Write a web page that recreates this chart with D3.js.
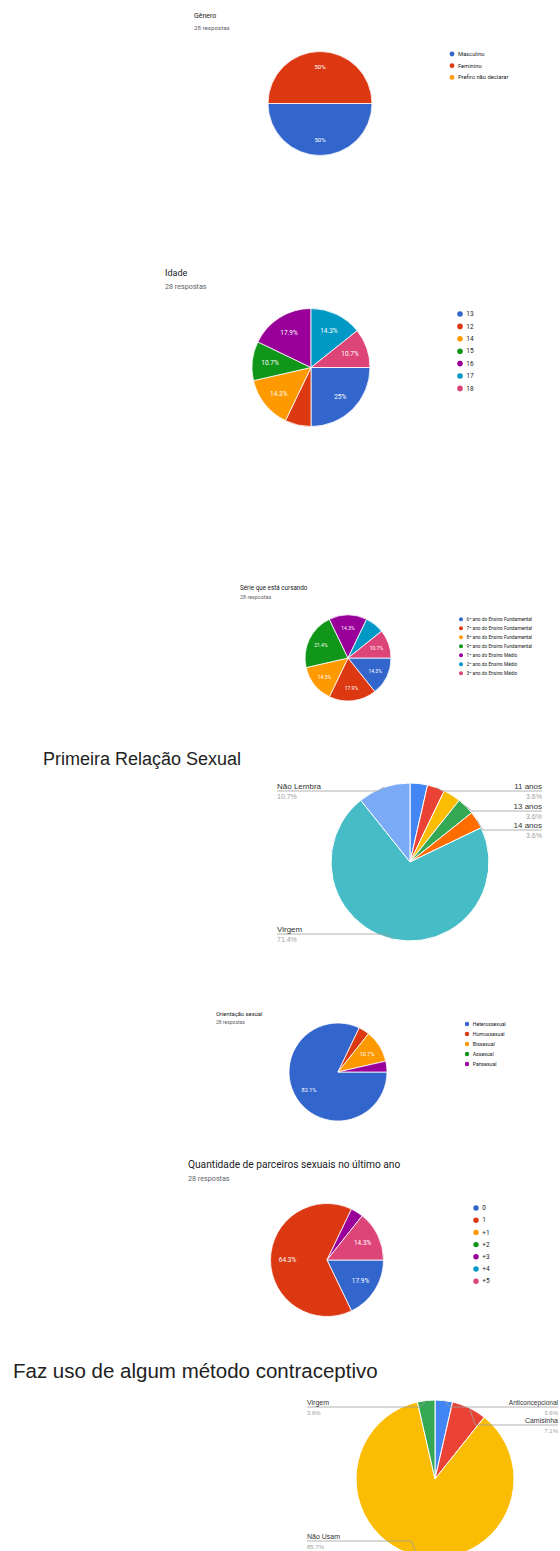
<!DOCTYPE html>
<html>
<head>
<meta charset="utf-8">
<script src="https://cdn.jsdelivr.net/npm/d3@7"></script>
<style>
  html, body { margin: 0; padding: 0; background: #fff; }
  svg { display: block; }
</style>
</head>
<body>
<svg id="chart" width="560" height="1551"></svg>
<script>
// ---- Survey answers (28 respostas) ----
const generoCats = ["Masculino", "Feminino", "Prefiro não declarar"];
const generoVals = [14, 14, 0];

const idadeCats = ["13", "12", "14", "15", "16", "17", "18"];
const idadeVals = [7, 2, 4, 3, 5, 4, 3];

const serieCats = [
  "6º ano do Ensino Fundamental",
  "7º ano do Ensino Fundamental",
  "8º ano do Ensino Fundamental",
  "9º ano do Ensino Fundamental",
  "1º ano do Ensino Médio",
  "2º ano do Ensino Médio",
  "3º ano do Ensino Médio"
];
const serieVals = [4, 5, 4, 6, 4, 2, 3];

const primeiraCats = ["10 anos", "11 anos", "12 anos", "13 anos", "14 anos", "Virgem", "Não Lembra"];
const primeiraVals = [1, 1, 1, 1, 1, 20, 3];

const orientCats = ["Heterossexual", "Homossexual", "Bissexual", "Assexual", "Pansexual"];
const orientVals = [23, 1, 3, 0, 1];

const parceirosCats = ["0", "1", "+1", "+2", "+3", "+4", "+5"];
const parceirosVals = [5, 18, 0, 0, 1, 0, 4];

const metodoCats = ["Anticoncepcional", "Camisinha", "Não Usam", "Virgem"];
const metodoVals = [1, 2, 24, 1];

// ---- Palettes ----
const formsColors = ["#3366cc", "#dc3912", "#ff9900", "#109618", "#990099", "#0099c6", "#dd4477"];
const sheetsColors = ["#4285f4", "#ea4335", "#fbbc04", "#34a853", "#ff6d01", "#46bdc6", "#7baaf7"];

const svg = d3.select("#chart");
svg.append("rect").attr("width", 560).attr("height", 1551).attr("fill", "#fff");

const pct = f => {
  const p = Math.round(f * 1000) / 10;
  return (Number.isInteger(p) ? p : p.toFixed(1)) + "%";
};

// Forms-style pie: title, response count, white percentage labels, dot legend
function formsPie(o) {
  const g = svg.append("g").attr("font-family", "Roboto, 'Liberation Sans', Arial, sans-serif");
  const total = d3.sum(o.values);
  g.append("text").attr("x", o.titleX).attr("y", o.titleY)
    .attr("font-size", o.titleSize).attr("fill", "#202124").text(o.title);
  g.append("text").attr("x", o.titleX).attr("y", o.subY)
    .attr("font-size", o.subSize).attr("fill", "#5f6368").text(total + " respostas");

  const pie = d3.pie().sort(null)
    .startAngle(Math.PI / 2).endAngle(Math.PI / 2 + 2 * Math.PI);
  const arcs = pie(o.values);
  const arc = d3.arc().innerRadius(0).outerRadius(o.r);
  const labelArc = d3.arc().innerRadius(o.r * 0.7).outerRadius(o.r * 0.7);

  const pg = g.append("g").attr("transform", `translate(${o.cx},${o.cy})`);
  pg.selectAll("path").data(arcs.filter(d => d.value > 0)).join("path")
    .attr("d", arc).attr("fill", d => formsColors[d.index])
    .attr("stroke", "#fff").attr("stroke-width", 0.8);
  pg.selectAll("text").data(arcs.filter(d => d.value / total >= 0.08)).join("text")
    .attr("transform", d => `translate(${labelArc.centroid(d)})`)
    .attr("text-anchor", "middle").attr("dy", "0.35em")
    .attr("font-size", o.labelSize).attr("fill", "#fff")
    .text(d => pct(d.value / total));

  const ly = d3.scalePoint().domain(o.cats)
    .range([o.legendY, o.legendY + o.legendStep * (o.cats.length - 1)]);
  const lg = g.append("g");
  lg.selectAll("circle").data(o.cats).join("circle")
    .attr("cx", o.legendX).attr("cy", d => ly(d)).attr("r", o.dotR)
    .attr("fill", (d, i) => formsColors[i]);
  lg.selectAll("text").data(o.cats).join("text")
    .attr("x", o.legendX + o.dotR + 3.5).attr("y", d => ly(d)).attr("dy", "0.35em")
    .attr("font-size", o.legendSize).attr("fill", "#202124").text(d => d);
}

// Sheets-style pie with outside labels on leader lines
function labeledPie(o) {
  const g = svg.append("g").attr("font-family", "'Liberation Sans', Arial, sans-serif");
  const total = d3.sum(o.values);
  g.append("text").attr("x", o.titleX).attr("y", o.titleY)
    .attr("font-size", o.titleSize).attr("fill", "#222").text(o.title);

  const pie = d3.pie().sort(null).startAngle(0).endAngle(2 * Math.PI);
  const arcs = pie(o.values);
  const arc = d3.arc().innerRadius(0).outerRadius(o.r);
  const edge = d3.arc().innerRadius(o.r).outerRadius(o.r);

  const pg = g.append("g").attr("transform", `translate(${o.cx},${o.cy})`);
  pg.selectAll("path").data(arcs.filter(d => d.value > 0)).join("path")
    .attr("d", arc).attr("fill", d => sheetsColors[d.index])
    .attr("stroke", "#fff").attr("stroke-width", 1);

  o.labels.forEach(l => {
    const d = arcs[l.index];
    const [ex, ey] = edge.centroid(d);
    const px = o.cx + ex, py = o.cy + ey;
    const dir = l.side === "right" ? 1 : -1;
    const elbowX = px + dir * 6;
    const lineEnd = l.lineEnd !== undefined ? l.lineEnd : l.x;
    g.append("path")
      .attr("d", d3.line()([[px, py], [elbowX, l.lineY], [lineEnd, l.lineY]]))
      .attr("fill", "none").attr("stroke", "#9e9e9e").attr("stroke-width", 0.8);
    const anchor = l.anchor || (l.side === "right" ? "end" : "start");
    g.append("text").attr("x", l.x).attr("y", l.lineY - 2.5)
      .attr("text-anchor", anchor).attr("font-size", l.nameSize || o.nameSize).attr("fill", "#333")
      .text(o.cats[l.index]);
    g.append("text").attr("x", l.valueX !== undefined ? l.valueX : l.x).attr("y", l.lineY + 8)
      .attr("text-anchor", anchor).attr("font-size", o.valueSize).attr("fill", "#9e9e9e")
      .text(pct(d.value / total));
  });
}

formsPie({
  title: "Gênero", cats: generoCats, values: generoVals,
  titleX: 194, titleY: 18, titleSize: 7, subY: 30, subSize: 6.2,
  cx: 320, cy: 103.5, r: 52, labelSize: 6,
  legendX: 452, legendY: 54, legendStep: 11.7, dotR: 2.4, legendSize: 5.8
});

formsPie({
  title: "Idade", cats: idadeCats, values: idadeVals,
  titleX: 165, titleY: 276, titleSize: 9, subY: 289, subSize: 7.2,
  cx: 311, cy: 367.5, r: 59, labelSize: 6.5,
  legendX: 460, legendY: 314, legendStep: 12.4, dotR: 2.8, legendSize: 6.5
});

formsPie({
  title: "Série que está cursando", cats: serieCats, values: serieVals,
  titleX: 240, titleY: 590, titleSize: 6.3, subY: 599, subSize: 5.4,
  cx: 348, cy: 658, r: 43, labelSize: 5,
  legendX: 461, legendY: 619.3, legendStep: 9, dotR: 2, legendSize: 4.8
});

labeledPie({
  title: "Primeira Relação Sexual", cats: primeiraCats, values: primeiraVals,
  titleX: 43, titleY: 765, titleSize: 18,
  cx: 410, cy: 862, r: 79, nameSize: 8, valueSize: 7,
  labels: [
    { index: 6, side: "left", x: 277, lineY: 791 },
    { index: 5, side: "left", x: 277, lineY: 934 },
    { index: 1, side: "right", x: 542, lineY: 791 },
    { index: 3, side: "right", x: 542, lineY: 811 },
    { index: 4, side: "right", x: 542, lineY: 830 }
  ]
});

formsPie({
  title: "Orientação sexual", cats: orientCats, values: orientVals,
  titleX: 216, titleY: 1016, titleSize: 5.8, subY: 1024, subSize: 5,
  cx: 338, cy: 1072, r: 49, labelSize: 5.5,
  legendX: 467, legendY: 1024, legendStep: 10, dotR: 2.2, legendSize: 5.2
});

formsPie({
  title: "Quantidade de parceiros sexuais no último ano", cats: parceirosCats, values: parceirosVals,
  titleX: 188, titleY: 1168, titleSize: 10.2, subY: 1181, subSize: 7.2,
  cx: 327, cy: 1260, r: 56.5, labelSize: 6.5,
  legendX: 476, legendY: 1208, legendStep: 12.2, dotR: 2.7, legendSize: 6.5
});

labeledPie({
  title: "Faz uso de algum método contraceptivo", cats: metodoCats, values: metodoVals,
  titleX: 13, titleY: 1378, titleSize: 20.5,
  cx: 435, cy: 1479, r: 79, nameSize: 7, valueSize: 6,
  labels: [
    { index: 3, side: "left", x: 307, lineY: 1407 },
    { index: 2, side: "left", x: 307, lineY: 1541 },
    { index: 0, side: "right", x: 558, valueX: 558, nameSize: 6.5, lineY: 1407, lineEnd: 558 },
    { index: 1, side: "right", x: 558, valueX: 558, lineY: 1425, lineEnd: 558 }
  ]
});
</script>
</body>
</html>
